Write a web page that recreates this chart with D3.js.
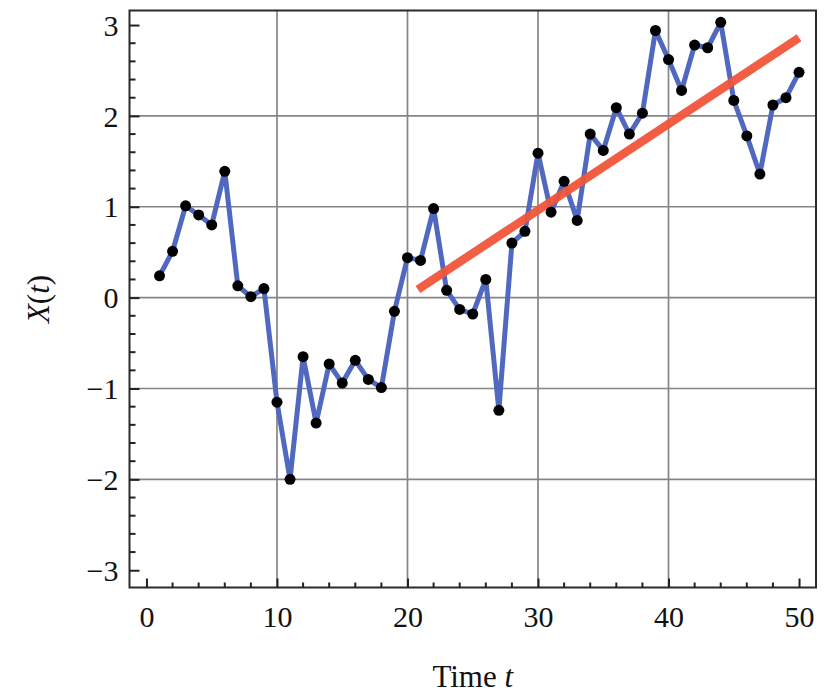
<!DOCTYPE html>
<html>
<head>
<meta charset="utf-8">
<script src="https://cdn.jsdelivr.net/npm/d3@7"></script>
<style>
  html, body { margin: 0; padding: 0; background: #fff; }
  svg { display: block; }
  svg text { font-family: "Liberation Serif", "Times New Roman", Times, serif; }
</style>
</head>
<body>
<svg id="chart" width="832" height="693"></svg>
<script>
// Time steps of the random walk
const times = d3.range(1, 51);
// Observed X(t) at each step
const values = [
  0.24, 0.51, 1.01, 0.91, 0.80, 1.39, 0.13, 0.01, 0.10, -1.15,
  -2.00, -0.65, -1.38, -0.73, -0.94, -0.69, -0.90, -0.99, -0.15, 0.44,
  0.41, 0.98, 0.08, -0.13, -0.18, 0.20, -1.24, 0.60, 0.73, 1.59,
  0.94, 1.28, 0.85, 1.80, 1.62, 2.09, 1.80, 2.03, 2.94, 2.62,
  2.28, 2.78, 2.75, 3.03, 2.17, 1.78, 1.36, 2.12, 2.20, 2.48
];
// Linear trend fitted over the later segment
const trendT = [20.8, 50];
const trendX = [0.09, 2.86];
// Axis ticks
const xTicks = [0, 10, 20, 30, 40, 50];
const yTicks = [-3, -2, -1, 0, 1, 2, 3];
const xGrid = [10, 20, 30, 40];
const yGrid = [-2, -1, 0, 1, 2];

const svg = d3.select("#chart");
const frame = { left: 129.5, right: 816, top: 10.5, bottom: 587.5 };

const x = d3.scaleLinear().domain([-1.3, 51.3]).range([frame.left, frame.right]);
const y = d3.scaleLinear().domain([-3.19, 3.16]).range([frame.bottom, frame.top]);

const serif = "Liberation Serif";

// grid
svg.append("g").selectAll("line").data(xGrid).join("line")
  .attr("x1", d => x(d)).attr("x2", d => x(d))
  .attr("y1", frame.top).attr("y2", frame.bottom)
  .attr("stroke", "#858585").attr("stroke-width", 1.7);
svg.append("g").selectAll("line").data(yGrid).join("line")
  .attr("y1", d => y(d)).attr("y2", d => y(d))
  .attr("x1", frame.left).attr("x2", frame.right)
  .attr("stroke", "#858585").attr("stroke-width", 1.7);

// frame
svg.append("rect")
  .attr("x", frame.left).attr("y", frame.top)
  .attr("width", frame.right - frame.left).attr("height", frame.bottom - frame.top)
  .attr("fill", "none").attr("stroke", "#2b2b2b").attr("stroke-width", 2);

// bottom axis: major every 10, minor every 2, ticks pointing inward
const xAxis = d3.axisBottom(x).tickValues(xTicks).tickSize(-9).tickPadding(18)
  .tickFormat(d3.format("d"));
const gx = svg.append("g").attr("transform", `translate(0,${frame.bottom})`).call(xAxis)
  .attr("font-family", null).attr("font-size", null);
gx.select(".domain").remove();
gx.selectAll(".tick line").attr("stroke", "#222").attr("stroke-width", 2);
gx.selectAll(".tick text").style("font-family", serif).style("font-size", "30px").attr("fill", "#111");
const xMinor = d3.range(0, 51, 2).filter(d => d % 10 !== 0);
svg.append("g").selectAll("line").data(xMinor).join("line")
  .attr("x1", d => x(d)).attr("x2", d => x(d))
  .attr("y1", frame.bottom).attr("y2", frame.bottom - 5)
  .attr("stroke", "#222").attr("stroke-width", 2);

// left axis: major every 1, minor every 0.2
const yAxis = d3.axisLeft(y).tickValues(yTicks).tickSize(-10).tickPadding(11)
  .tickFormat(d => d < 0 ? "\u2212" + Math.abs(d) : String(d));
const gy = svg.append("g").attr("transform", `translate(${frame.left},0)`).call(yAxis)
  .attr("font-family", null).attr("font-size", null);
gy.select(".domain").remove();
gy.selectAll(".tick line").attr("stroke", "#222").attr("stroke-width", 2);
gy.selectAll(".tick text").style("font-family", serif).style("font-size", "30px").attr("fill", "#111")
  .attr("dy", "0.34em");
const yMinor = d3.range(-30, 31, 2).filter(d => d % 10 !== 0).map(d => d / 10);
svg.append("g").selectAll("line").data(yMinor).join("line")
  .attr("y1", d => y(d)).attr("y2", d => y(d))
  .attr("x1", frame.left).attr("x2", frame.left + 6)
  .attr("stroke", "#222").attr("stroke-width", 2);

// series line
const pts = times.map((t, i) => [t, values[i]]);
svg.append("path").datum(pts)
  .attr("d", d3.line().x(d => x(d[0])).y(d => y(d[1])))
  .attr("fill", "none").attr("stroke", "#5068c0").attr("stroke-width", 5)
  .attr("stroke-linejoin", "round");

// trend line
svg.append("line")
  .attr("x1", x(trendT[0])).attr("y1", y(trendX[0]))
  .attr("x2", x(trendT[1])).attr("y2", y(trendX[1]))
  .attr("stroke", "#f0553a").attr("stroke-width", 8.5).attr("stroke-opacity", 0.95);

// points
svg.append("g").selectAll("circle").data(pts).join("circle")
  .attr("cx", d => x(d[0])).attr("cy", d => y(d[1])).attr("r", 5.5)
  .attr("fill", "#000");

// axis titles
svg.append("text")
  .attr("x", (frame.left + frame.right) / 2).attr("y", 687)
  .attr("text-anchor", "middle").style("font-family", serif).style("font-size", "31px").attr("fill", "#111")
  .html("Time <tspan font-style='italic'>t</tspan>");
svg.append("text")
  .attr("transform", `translate(49,${(frame.top + frame.bottom) / 2}) rotate(-90)`)
  .attr("text-anchor", "middle").style("font-family", serif).style("font-size", "31px").attr("fill", "#111")
  .html("<tspan font-style='italic'>X</tspan>(<tspan font-style='italic'>t</tspan>)");
</script>
</body>
</html>
